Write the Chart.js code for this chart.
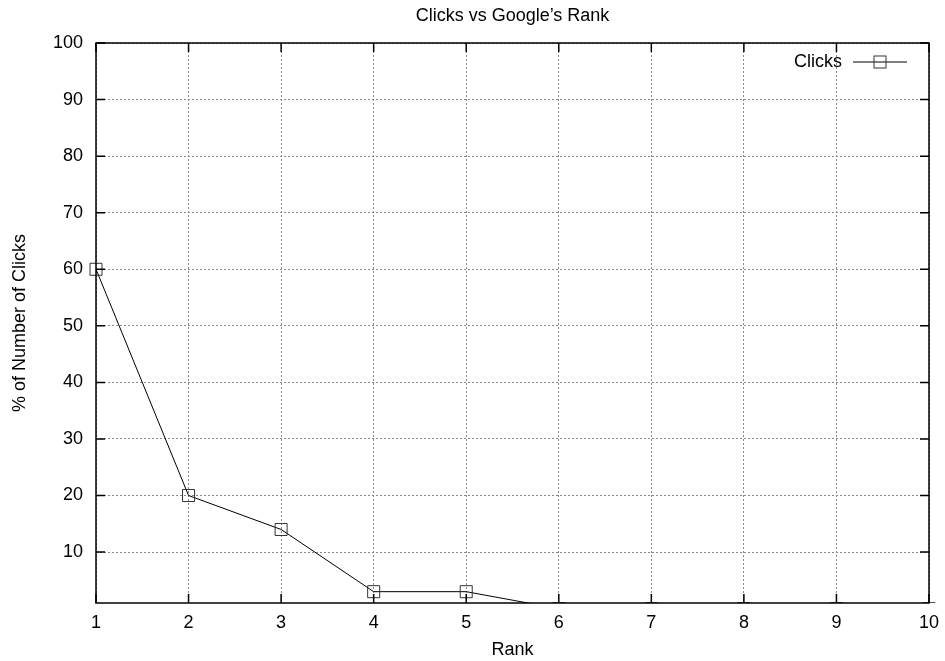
<!DOCTYPE html>
<html>
<head>
<meta charset="utf-8">
<title>Clicks vs Google’s Rank</title>
<script src="https://cdn.jsdelivr.net/npm/chart.js@4/dist/chart.umd.min.js"></script>
<style>
    html, body { margin: 0; padding: 0; background: #fff; }
</style>
</head>
<body>
<canvas id="clicksChart" width="945" height="661"></canvas>
<script>
const ranks = [1, 2, 3, 4, 5, 6, 7, 8, 9, 10];
const clicks = [60, 20, 14, 3, 3, 0, 0, 0, 0, 0];
const xTickValues = [1, 2, 3, 4, 5, 6, 7, 8, 9, 10];
const yTickValues = [10, 20, 30, 40, 50, 60, 70, 80, 90, 100];

const FONT = { family: "'Liberation Sans', Arial, Helvetica, sans-serif", size: 18, weight: "normal" };

// gnuplot look: full black frame, inward mirrored ticks, key inside top right
const gnuplotFrame = {
    id: "gnuplotFrame",
    afterDatasetsDraw(chart) {
        const { ctx, chartArea: a, scales: { x, y } } = chart;
        ctx.save();
        ctx.strokeStyle = "#000";
        ctx.lineWidth = 1.5;
        ctx.beginPath();
        xTickValues.forEach(v => {
            const px = x.getPixelForValue(v);
            ctx.moveTo(px, a.bottom);
            ctx.lineTo(px, a.bottom - 9);
            ctx.moveTo(px, a.top);
            ctx.lineTo(px, a.top + 9);
        });
        yTickValues.forEach(v => {
            const py = y.getPixelForValue(v);
            ctx.moveTo(a.left, py);
            ctx.lineTo(a.left + 9, py);
            ctx.moveTo(a.right, py);
            ctx.lineTo(a.right - 9, py);
        });
        ctx.stroke();
        ctx.strokeRect(a.left, a.top, a.right - a.left, a.bottom - a.top);

        // key
        const ds = chart.data.datasets[0];
        const ky = a.top + 19;
        const kx = a.right - 22;
        ctx.font = `${FONT.size}px ${FONT.family}`;
        ctx.fillStyle = "#000";
        ctx.textAlign = "right";
        ctx.textBaseline = "middle";
        ctx.fillText(ds.label, kx - 65, ky);
        ctx.lineWidth = 1;
        ctx.beginPath();
        ctx.moveTo(kx - 54, ky);
        ctx.lineTo(kx, ky);
        ctx.stroke();
        ctx.strokeStyle = ds.pointBorderColor;
        ctx.strokeRect(kx - 33, ky - 6, 12, 12);
        ctx.restore();
    }
};

new Chart(document.getElementById("clicksChart"), {
    type: "line",
    data: {
        datasets: [
            {
                label: "Clicks",
                data: ranks.map((r, i) => ({ x: r, y: clicks[i] })),
                borderColor: "#000",
                borderWidth: 1,
                pointStyle: "rect",
                pointRadius: 8.5,
                pointHoverRadius: 8.5,
                pointBorderWidth: 1,
                pointBorderColor: "#333",
                pointBackgroundColor: "rgba(0,0,0,0)",
                tension: 0,
                clip: { left: 12, top: 12, right: 12, bottom: 0 }
            }
        ]
    },
    options: {
        responsive: false,
        animation: false,
        layout: { padding: { left: 0, right: 16, top: 0, bottom: 0 } },
        plugins: {
            legend: { display: false },
            tooltip: { enabled: false },
            title: {
                display: true,
                fullSize: false,
                text: "Clicks vs Google’s Rank",
                color: "#000",
                font: FONT,
                padding: { top: 5, bottom: 16.4 }
            }
        },
        scales: {
            x: {
                type: "linear",
                min: 1,
                max: 10,
                afterBuildTicks: s => { s.ticks = xTickValues.map(v => ({ value: v })); },
                afterFit: s => { s.height = 58; s.paddingLeft = 0; s.paddingRight = 0; },
                grid: { color: "#888", lineWidth: 1, drawTicks: false },
                border: { display: false, dash: [2, 2] },
                ticks: { color: "#000", font: FONT, padding: 9, maxRotation: 0, autoSkip: false },
                title: { display: true, text: "Rank", color: "#000", font: FONT, padding: { top: 0, bottom: 0.5 } }
            },
            y: {
                type: "linear",
                min: 1,
                max: 100,
                afterBuildTicks: s => { s.ticks = yTickValues.map(v => ({ value: v })); },
                afterFit: s => { s.width = 96; },
                grid: { color: "#888", lineWidth: 1, drawTicks: false },
                border: { display: false, dash: [2, 2] },
                ticks: { color: "#000", font: FONT, padding: 13, autoSkip: false },
                title: { display: true, text: "% of Number of Clicks", color: "#000", font: FONT, padding: { top: 9, bottom: 0 } }
            }
        }
    },
    plugins: [gnuplotFrame]
});
</script>
</body>
</html>
